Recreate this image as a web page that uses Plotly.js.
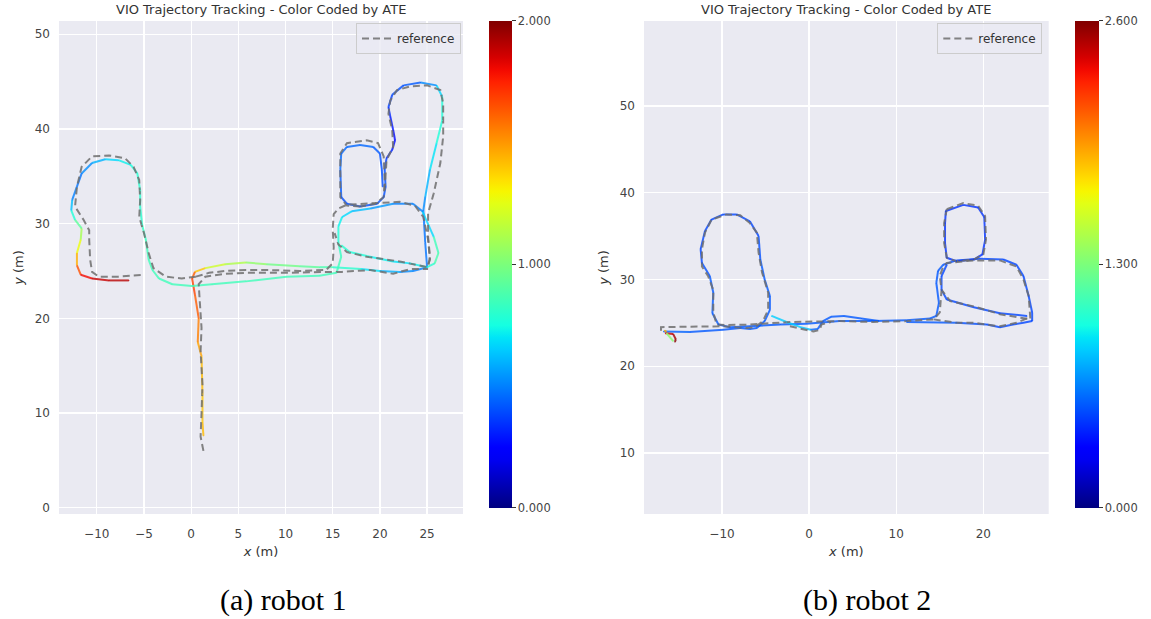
<!DOCTYPE html>
<html>
<head>
<meta charset="utf-8">
<script src="https://cdn.plot.ly/plotly-3.0.1.min.js"></script>
<style>html,body{margin:0;padding:0;background:#fff;}#chart{width:1151px;height:619px;}</style>
</head>
<body>
<div id="chart"></div>
<script>
// ---------------- Data ----------------
const chartTitle = "VIO Trajectory Tracking - Color Coded by ATE";
const captions = ["(a) robot 1", "(b) robot 2"];
const legendLabel = "reference";

// Robot 1 colour-bar range and ticks
const r1AteMax = 2.0;
const r1CbarTicks = [0, 1, 2];
const r1CbarLabels = ["0.000", "1.000", "2.000"];
const r1XTicks = [-10, -5, 0, 5, 10, 15, 20, 25];
const r1YTicks = [0, 10, 20, 30, 40, 50];

// Robot 1 estimated trajectory (null separates pieces), ATE per point
const r1EstX = [1.3,1.2,1.2,1.1,0.7,0.8,0.4,0.1,0.4,1.5,3.6,5.8,8.0,11.5,13.6,15.0,18.0,20.0,22.1,23.5,25.0,24.8,24.6,24.8,25.3,26.0,26.6,26.6,26.0,24.3,22.5,21.3,20.9,21.1,21.4,21.6,21.3,20.7,20.5,20.6,20.4,19.7,17.9,16.5,15.9,15.8,15.9,16.5,17.9,19.3,20.0,20.2,20.3,
  null,
  24.5,23.5,21.4,19.0,17.0,16.0,15.6,15.6,15.9,15.4,13.6,10.1,5.8,2.2,0.1,-2.0,-3.4,-4.1,-4.5,-4.8,-5.2,-5.4,-5.4,-5.7,-6.4,-7.7,-9.1,-10.5,-11.6,-12.1,-12.6,-12.7,-12.3,-11.6,-11.7,-12.1,-12.1,-11.7,-10.5,-8.7,-6.6,
  null,
  24.5,25.7,26.2,25.8,25.0,23.2,21.4,18.95,16.8,15.9];
const r1EstY = [7.6,9.0,12.0,16.0,17.5,20.0,22.5,24.2,24.9,25.3,25.7,25.9,25.7,25.5,25.4,25.4,25.2,25.0,24.9,25.0,25.4,28.0,31.4,32.8,35.7,38.5,40.9,43.4,44.6,44.9,44.6,43.6,42.3,41.3,39.9,38.8,37.8,36.9,35.7,33.9,32.8,32.1,31.8,32.1,32.8,35.7,37.4,38.1,38.3,38.1,37.4,35.7,33.9,
  null,
  31.3,32.1,32.1,31.6,31.3,30.7,29.7,28.0,26.5,24.8,24.5,24.4,23.9,23.6,23.4,23.6,24.2,25.1,26.2,28.3,29.9,31.8,33.5,35.3,36.2,36.7,36.8,36.4,35.3,33.9,32.5,31.4,30.4,29.5,28.3,26.9,25.6,24.6,24.2,24.0,24.0,
  null,
  31.3,28.6,26.9,25.8,25.4,25.8,26.0,26.5,27.0,27.7];
const r1EstAte = [1.45,1.4,1.4,1.45,1.5,1.6,1.65,1.7,1.55,1.25,1.15,1.1,1.0,0.95,0.9,0.85,0.75,0.65,0.55,0.5,0.5,0.45,0.5,0.55,0.65,0.75,0.8,0.75,0.6,0.45,0.4,0.4,0.35,0.3,0.28,0.25,0.3,0.35,0.4,0.4,0.4,0.4,0.4,0.4,0.4,0.45,0.45,0.45,0.45,0.45,0.4,0.4,0.4,
  null,
  0.5,0.5,0.5,0.6,0.65,0.7,0.75,0.8,0.85,0.85,0.85,0.85,0.85,0.85,0.85,0.85,0.85,0.85,0.85,0.85,0.8,0.8,0.8,0.8,0.75,0.7,0.65,0.55,0.5,0.45,0.55,0.7,0.85,1.0,1.2,1.35,1.55,1.75,1.85,1.9,1.9,
  null,
  0.55,0.8,0.9,0.85,0.75,0.7,0.7,0.75,0.8,0.8];

// Robot 1 reference trajectory (null separates pieces)
const r1RefX = [0.5,-1.0,-2.7,-4.0,-4.5,-5.0,-5.5,-5.4,-5.5,-6.1,-7.0,-8.7,-10.5,-11.6,-12.1,-12.3,-11.4,-10.8,-10.8,-10.7,-10.5,-9.8,-7.7,-5.0,
  null,
  1.3,1.0,1.1,1.2,1.0,1.1,0.9,0.8,1.5,3.6,5.8,10.0,14.0,16.0,19.0,21.4,23.2,25.1,
  null,
  0.5,1.9,3.6,5.8,8.0,11.5,14.3,15.0,15.1,15.0,15.1,15.6,16.5,18.6,22.1,23.7,24.6,25.1,25.3,25.0,22.1,18.6,16.5,15.6,15.2,
  null,
  17.9,16.5,15.8,15.8,15.8,16.5,18.6,19.8,20.4,20.5,20.4,19.5,17.9,
  null,
  20.5,20.7,21.4,21.3,20.9,21.1,21.8,23.2,25.0,26.4,26.7,26.7,26.4,25.7,25.1,25.1,25.3,25.1];
const r1RefY = [24.4,24.2,24.4,25.3,26.9,29.0,30.7,32.5,34.6,36.0,36.9,37.2,37.1,36.0,33.9,31.8,30.4,29.3,28.3,26.2,24.9,24.4,24.4,24.6,
  null,
  6.0,7.5,10.0,13.0,16.5,19.0,22.0,23.6,24.4,24.7,24.8,24.8,24.9,24.9,25.1,24.7,25.2,25.2,
  null,
  24.4,24.8,25.0,25.1,25.1,25.0,25.1,25.8,27.5,29.4,31.0,31.6,32.0,32.1,32.3,31.9,30.7,28.3,26.2,25.4,26.0,26.5,27.0,27.8,29.0,
  null,
  31.8,31.9,32.8,35.0,37.4,38.5,38.8,38.5,37.1,34.6,32.8,32.1,31.8,
  null,
  33.5,36.7,38.1,39.9,41.6,43.0,44.1,44.5,44.6,44.1,42.7,39.2,36.4,33.2,31.1,28.6,26.5,25.4];

// Robot 2 colour-bar range and ticks
const r2AteMax = 2.6;
const r2CbarTicks = [0, 1.3, 2.6];
const r2CbarLabels = ["0.000", "1.300", "2.600"];
const r2XTicks = [-10, 0, 10, 20];
const r2YTicks = [10, 20, 30, 40, 50];

// Robot 2 estimated trajectory
const r2EstX = [-16.7,-13.7,-9.85,-7.9,-6.8,-6.0,-5.1,-4.5,-4.5,-5.1,-5.6,-5.8,-6.8,-8.3,-9.85,-11.2,-11.95,-12.45,-12.3,-11.4,-11.0,-11.1,-10.4,-9.1,-6.8,-3.3,-0.3,3.5,7.4,11.2,13.9,14.6,14.9,14.6,14.8,15.4,16.9,19.6,22.3,23.8,24.6,25.2,25.6,25.6,24.6,23.4,21.9,20.4,16.9,11.2,
  null,
  25.0,21.9,18.9,15.8,15.2,15.2,15.8,
  null,
  15.7,17.7,19.4,20.1,20.2,19.9,18.9,16.9,15.8,15.6,15.6,15.7,
  null,
  -4.3,-2.6,-1.0,0.2,
  null,
  0.2,1.0,1.6,2.5,4.0,6.0,8.0,
  null,
  -16.5,-15.6,-15.3,-15.4,
  null,
  -16.35,-15.6,
  null,
  -16.6,-16.4];
const r2EstY = [24.0,23.95,24.2,24.4,24.3,24.4,25.2,26.5,28.1,30.0,32.3,35.0,36.7,37.5,37.5,36.9,35.6,33.5,31.9,30.4,28.5,26.1,24.8,24.5,24.6,24.8,24.9,25.2,25.2,25.3,25.5,25.8,27.3,29.6,31.0,31.7,32.2,32.4,32.3,31.7,30.4,28.1,26.2,25.2,25.0,24.8,24.5,24.8,25.0,25.1,
  null,
  25.8,26.1,26.8,27.7,28.8,30.4,31.7,
  null,
  37.9,38.6,38.3,37.2,34.6,32.9,32.3,32.1,32.5,34.2,36.5,37.9,
  null,
  25.8,25.1,24.5,24.2,
  null,
  24.2,24.3,25.2,25.7,25.8,25.5,25.2,
  null,
  23.8,23.7,23.1,22.8,
  null,
  23.8,22.9,
  null,
  24.1,24.0];
const r2EstAte = [0.6,0.55,0.55,0.55,0.55,0.55,0.55,0.55,0.55,0.55,0.55,0.5,0.5,0.5,0.5,0.5,0.5,0.5,0.5,0.55,0.55,0.55,0.55,0.55,0.55,0.55,0.55,0.55,0.55,0.55,0.55,0.55,0.55,0.55,0.55,0.55,0.5,0.5,0.5,0.5,0.5,0.5,0.5,0.5,0.5,0.5,0.5,0.5,0.55,0.55,
  null,
  0.5,0.5,0.5,0.5,0.5,0.5,0.5,
  null,
  0.45,0.45,0.45,0.45,0.45,0.45,0.45,0.45,0.45,0.45,0.45,0.45,
  null,
  0.85,0.85,0.85,0.8,
  null,
  0.6,0.55,0.55,0.55,0.55,0.55,0.55,
  null,
  2.4,2.5,2.55,2.6,
  null,
  1.4,1.3,
  null,
  1.9,1.9];

// Robot 2 reference trajectory
const r2RefX = [-17.0,-17.0,-14.0,-11.0,-9.85,-8.7,-7.2,-6.2,-5.3,-4.7,-4.7,-5.4,-5.8,-6.0,-6.8,-7.9,-9.5,-11.2,-11.95,-12.3,-12.3,-11.6,-11.0,-11.0,-10.6,-9.5,-6.8,-2.2,0.0,3.5,7.4,11.2,14.3,15.0,15.2,15.0,15.4,15.8,18.9,21.9,23.8,24.6,25.2,25.4,25.4,24.2,21.9,18.9,16.2,15.2,
  null,
  -2.2,-0.3,0.5,1.25,1.4,2.5,
  null,
  14.3,16.9,18.9,20.4,21.9,23.8,25.2,
  null,
  15.8,17.7,19.4,20.2,20.3,20.0,18.9,16.9,15.8,15.5,15.5,15.8];
const r2RefY = [24.1,24.5,24.55,24.6,24.6,24.5,24.4,24.5,25.2,26.5,28.5,30.8,33.1,35.4,36.5,37.4,37.5,36.9,35.4,33.5,31.5,30.4,28.8,26.2,24.8,24.75,24.8,25.1,25.15,25.2,25.1,25.2,25.4,26.2,28.8,30.4,31.5,31.9,32.2,32.2,31.5,30.0,28.1,26.2,25.4,25.6,26.0,26.9,27.5,28.8,
  null,
  24.6,24.2,24.0,24.2,24.8,25.1,
  null,
  25.4,25.0,25.0,24.8,24.6,25.0,25.6,
  null,
  38.1,38.8,38.5,37.3,34.6,32.9,32.3,32.1,32.5,34.2,36.5,38.1];

// ---------------- Helpers ----------------
const jetR = [[0,0],[0.35,0],[0.66,1],[0.89,1],[1,0.5]];
const jetG = [[0,0],[0.125,0],[0.375,1],[0.64,1],[0.91,0],[1,0]];
const jetB = [[0,0.5],[0.11,1],[0.34,1],[0.65,0],[1,0]];
function interp(pts, t) {
  for (let i = 0; i < pts.length - 1; i++) {
    if (t >= pts[i][0] && t <= pts[i+1][0]) {
      const f = (t - pts[i][0]) / (pts[i+1][0] - pts[i][0]);
      return pts[i][1] + f * (pts[i+1][1] - pts[i][1]);
    }
  }
  return pts[pts.length-1][1];
}
function jet(t) {
  t = Math.max(0, Math.min(1, t));
  return 'rgb(' + Math.round(255*interp(jetR,t)) + ',' + Math.round(255*interp(jetG,t)) + ',' + Math.round(255*interp(jetB,t)) + ')';
}
const jetScale = [];
for (let i = 0; i <= 40; i++) jetScale.push([i/40, jet(i/40)]);

function segments(xs, ys, es, cmax, xa, ya) {
  const out = [];
  for (let i = 0; i < xs.length - 1; i++) {
    if (xs[i] === null || xs[i+1] === null) continue;
    out.push({
      type: 'scatter', mode: 'lines', x: [xs[i], xs[i+1]], y: [ys[i], ys[i+1]],
      xaxis: xa, yaxis: ya, line: {color: jet(((es[i] + es[i+1]) / 2) / cmax), width: 2},
      opacity: 0.8, showlegend: false, hoverinfo: 'skip'
    });
  }
  return out;
}
function cbarTrace(xs, ys, es, cmax, xa, ya, cbx, thick, tv, tt) {
  return {
    type: 'scatter', mode: 'markers', x: xs, y: ys, xaxis: xa, yaxis: ya,
    showlegend: false, hoverinfo: 'skip',
    marker: {size: 1, color: es, colorscale: jetScale, cmin: 0, cmax: cmax, showscale: true,
      colorbar: {x: cbx, xanchor: 'left', xpad: 0, y: 1 - 20.7/619, yanchor: 'top', ypad: 0,
        len: 486.6/619, lenmode: 'fraction', thickness: thick, thicknessmode: 'pixels',
        outlinewidth: 0, tickmode: 'array', tickvals: tv, ticktext: tt, ticks: 'outside',
        ticklen: 4, tickwidth: 1, tickcolor: '#333',
        tickfont: {family: 'DejaVu Sans', size: 11.5, color: '#444'}}}
  };
}
function refTrace(xs, ys, xa, ya, leg) {
  return {type: 'scatter', mode: 'lines', x: xs, y: ys, xaxis: xa, yaxis: ya, name: legendLabel,
    legend: leg, connectgaps: false, hoverinfo: 'skip',
    line: {color: 'rgba(110,110,110,0.85)', width: 2, dash: '7px,4px'}};
}

const traces = []
  .concat(segments(r1EstX, r1EstY, r1EstAte, r1AteMax, 'x', 'y'))
  .concat(segments(r2EstX, r2EstY, r2EstAte, r2AteMax, 'x2', 'y2'))
  .concat([refTrace(r1RefX, r1RefY, 'x', 'y', 'legend'), refTrace(r2RefX, r2RefY, 'x2', 'y2', 'legend2')])
  .concat([cbarTrace(r1EstX, r1EstY, r1EstAte, r1AteMax, 'x', 'y', 489/1151, 23, r1CbarTicks, r1CbarLabels),
           cbarTrace(r2EstX, r2EstY, r2EstAte, r2AteMax, 'x2', 'y2', 1074.7/1151, 24, r2CbarTicks, r2CbarLabels)]);

const tickFont = {family: 'DejaVu Sans', size: 12, color: '#444'};
const titleFont = {family: 'DejaVu Sans', size: 13, color: '#333'};
function xAxis(dom, rng, tv, anchor) {
  return {domain: dom, range: rng, anchor: anchor, tickmode: 'array', tickvals: tv,
    showgrid: true, gridcolor: '#ffffff', gridwidth: 1.3, zeroline: false, showline: false,
    ticks: '', ticklabelstandoff: 11, tickfont: tickFont,
    title: {text: '<i>x</i> (m)', font: titleFont, standoff: 6}, fixedrange: true};
}
function yAxis(dom, rng, tv, anchor) {
  return {domain: dom, range: rng, anchor: anchor, tickmode: 'array', tickvals: tv,
    showgrid: true, gridcolor: '#ffffff', gridwidth: 1.3, zeroline: false, showline: false,
    ticks: '', ticklabelstandoff: 8, tickfont: tickFont,
    title: {text: '<i>y</i> (m)', font: titleFont, standoff: 8}, fixedrange: true};
}

const yDom = [1 - 514/619, 1 - 21/619];
const legendStyle = {bgcolor: 'rgba(234,234,242,0.8)', bordercolor: '#cccccc', borderwidth: 1,
  font: {family: 'DejaVu Sans', size: 12, color: '#333'}, tracegroupgap: 0, itemwidth: 30};
const layout = {
  width: 1151, height: 619, margin: {l: 0, r: 0, t: 0, b: 0},
  paper_bgcolor: '#ffffff', plot_bgcolor: '#EAEAF2',
  font: {family: 'DejaVu Sans', color: '#333'},
  xaxis: xAxis([59/1151, 463/1151], [-14.0, 28.8], r1XTicks, 'y'),
  yaxis: yAxis(yDom, [-0.67, 51.4], r1YTicks, 'x'),
  xaxis2: xAxis([644/1151, 1048.7/1151], [-18.95, 27.5], r2XTicks, 'y2'),
  yaxis2: yAxis(yDom, [2.96, 59.8], r2YTicks, 'x2'),
  legend: Object.assign({x: 461/1151, xanchor: 'right', y: 1 - 23/619, yanchor: 'top'}, legendStyle),
  legend2: Object.assign({x: 1042.3/1151, xanchor: 'right', y: 1 - 23/619, yanchor: 'top'}, legendStyle),
  annotations: [
    {text: chartTitle, xref: 'paper', yref: 'paper', x: 261/1151, y: 1 - 10/619, xanchor: 'center', yanchor: 'middle', showarrow: false, font: titleFont},
    {text: chartTitle, xref: 'paper', yref: 'paper', x: 846/1151, y: 1 - 10/619, xanchor: 'center', yanchor: 'middle', showarrow: false, font: titleFont},
    {text: captions[0], xref: 'paper', yref: 'paper', x: 283/1151, y: 1 - 600/619, xanchor: 'center', yanchor: 'middle', showarrow: false, font: {family: 'Liberation Serif', size: 30, color: '#000'}},
    {text: captions[1], xref: 'paper', yref: 'paper', x: 867/1151, y: 1 - 600/619, xanchor: 'center', yanchor: 'middle', showarrow: false, font: {family: 'Liberation Serif', size: 30, color: '#000'}}
  ],
  showlegend: true
};

Plotly.newPlot('chart', traces, layout, {displayModeBar: false, staticPlot: true});
</script>
</body>
</html>
